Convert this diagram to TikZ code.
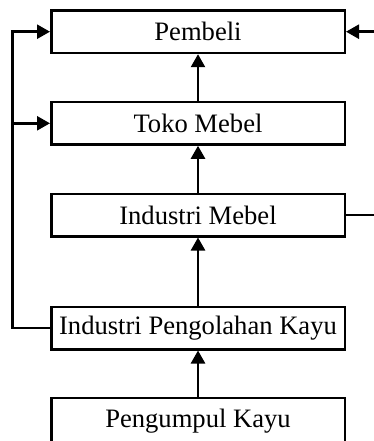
\documentclass[tikz,border=0pt]{standalone}
\usepackage{fontspec}
\setmainfont{Liberation Serif}
\usetikzlibrary{arrows.meta}
\begin{document}
\begin{tikzpicture}[x=1pt,y=-1pt,
  box/.style={draw, line width=2.5pt, minimum width=293.5pt, minimum height=42.5pt, inner sep=0pt, font=\fontsize{26.6}{30}\selectfont},
  arr/.style={line width=2.5pt, -{Triangle[length=13pt,width=14pt]}},
  ln/.style={line width=2.5pt}]
\useasboundingbox (0,0) rectangle (374,441);
\node[box] (pembeli) at (198,31.7) {Pembeli};
\node[box] (toko) at (198,123.3) {Toko Mebel};
\node[box] (im) at (198,215) {Industri Mebel};
\node[box] (ipk) at (198,328) {Industri Pengolahan Kayu};
\node[box, minimum height=47pt] (pk) at (198,421.5) {\raisebox{2.5pt}{Pengumpul Kayu}};
\draw[arr] (pk.north) -- (ipk.south);
\draw[arr] (ipk.north) -- (im.south);
\draw[arr] (im.north) -- (toko.south);
\draw[arr] (toko.north) -- (pembeli.south);
\coordinate (lb) at (12.5,328);
\coordinate (lm) at (12.5,123.3);
\draw[arr] (ipk.west) -- (lb) |- (pembeli.west);
\draw[arr] (lm) -- (toko.west);
\coordinate (rb) at (392,215);
\draw[arr] (im.east) -- (rb) |- (pembeli.east);
\end{tikzpicture}
\end{document}
